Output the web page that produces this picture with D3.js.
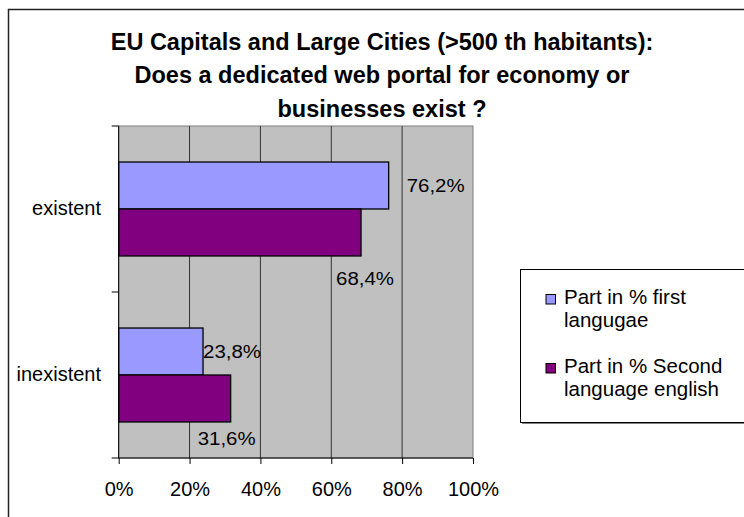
<!DOCTYPE html>
<html>
<head>
<meta charset="utf-8">
<script src="https://cdn.jsdelivr.net/npm/d3@7"></script>
<style>
  html, body { margin: 0; padding: 0; background: #ffffff; }
  svg { display: block; }
  text { font-family: Arial, "Liberation Sans", sans-serif; fill: #000; }
</style>
</head>
<body>
<svg id="chart" width="744" height="517"></svg>
<script>
// Chart data
const categories = ["existent", "inexistent"];
const seriesNames = ["Part in % first langugae", "Part in % Second language english"];
const seriesLegendLines = [["Part in % first", "langugae"], ["Part in % Second", "language english"]];
const firstLanguage = [76.2, 23.8];
const secondLanguageEnglish = [68.4, 31.6];
const xTicks = [0, 20, 40, 60, 80, 100];
const titleLines = [
  "EU Capitals and Large Cities (>500 th habitants):",
  "Does a dedicated web portal for economy or",
  "businesses exist ?"
];

const seriesValues = [firstLanguage, secondLanguageEnglish];
const colors = ["#9999ff", "#800080"];

const svg = d3.select("#chart");

// Outer chart frame
svg.append("rect")
  .attr("x", 8.5).attr("y", 9.5)
  .attr("width", 760).attr("height", 520)
  .attr("fill", "#ffffff")
  .attr("stroke", "#222").attr("stroke-width", 1.5);

// Title
const title = svg.append("text")
  .attr("text-anchor", "middle")
  .style("font-weight", "bold")
  .style("font-size", "23.5px");
titleLines.forEach((line, i) => {
  title.append("tspan")
    .attr("x", 382)
    .attr("y", 50 + i * 33.3)
    .text(line);
});

// Plot area
const plot = { left: 118.7, right: 473, top: 126, bottom: 458 };

const x = d3.scaleLinear().domain([0, 100]).range([plot.left, plot.right]);
const y = d3.scaleBand().domain(categories).range([plot.top, plot.bottom])
  .paddingInner(0.434).paddingOuter(0.217);
const ySeries = d3.scaleBand().domain(d3.range(seriesValues.length)).range([0, y.bandwidth()]);

svg.append("rect")
  .attr("x", plot.left).attr("y", plot.top)
  .attr("width", plot.right - plot.left).attr("height", plot.bottom - plot.top)
  .attr("fill", "#c0c0c0")
  .attr("stroke", "#808080").attr("stroke-width", 1);

// Vertical gridlines
svg.append("g")
  .selectAll("line")
  .data(xTicks.filter(t => t > 0 && t < 100))
  .join("line")
  .attr("x1", d => x(d)).attr("x2", d => x(d))
  .attr("y1", plot.top).attr("y2", plot.bottom)
  .attr("stroke", "#333").attr("stroke-width", 1);

// Bars
const groups = svg.append("g")
  .selectAll("g")
  .data(categories)
  .join("g")
  .attr("transform", d => `translate(0,${y(d)})`);

groups.selectAll("rect")
  .data((d, ci) => seriesValues.map((vals, si) => ({ si, value: vals[ci] })))
  .join("rect")
  .attr("x", x(0))
  .attr("y", d => ySeries(d.si))
  .attr("width", d => x(d.value) - x(0))
  .attr("height", ySeries.bandwidth())
  .attr("fill", d => colors[d.si])
  .attr("stroke", "#000").attr("stroke-width", 1.3);

// Value labels (hand-placed offsets relative to each bar end)
const labelPlacement = [
  [{ dx: 18, dy: 6, anchor: "start", below: false }, { dx: 4, dy: 29, anchor: "middle", below: true }],
  [{ dx: 0, dy: 6, anchor: "start", below: false }, { dx: -4, dy: 23, anchor: "middle", below: true }]
];
const fmt = v => d3.format(".1f")(v).replace(".", ",") + "%";

categories.forEach((cat, ci) => {
  seriesValues.forEach((vals, si) => {
    const p = labelPlacement[ci][si];
    const barTop = y(cat) + ySeries(si);
    const baseY = p.below ? barTop + ySeries.bandwidth() : barTop + ySeries.bandwidth() / 2;
    svg.append("text")
      .attr("x", x(vals[ci]) + p.dx)
      .attr("y", baseY + p.dy)
      .attr("text-anchor", p.anchor)
      .style("font-size", "18px")
      .attr("textLength", 58)
      .attr("lengthAdjust", "spacingAndGlyphs")
      .text(fmt(vals[ci]));
  });
});

// X axis
const xAxis = d3.axisBottom(x)
  .tickValues(xTicks)
  .tickFormat(d => d + "%")
  .tickSize(6)
  .tickSizeOuter(0);
const gx = svg.append("g")
  .attr("transform", `translate(0,${plot.bottom})`)
  .call(xAxis);
gx.select(".domain").remove();
gx.append("line")
  .attr("x1", plot.left - 7).attr("x2", plot.right)
  .attr("stroke", "#000");
gx.selectAll(".tick line").attr("stroke", "#000");
gx.selectAll(".tick text")
  .attr("y", 38).attr("dy", null)
  .style("font-size", "20px")
  .style("font-family", "Arial, 'Liberation Sans', sans-serif")
  .attr("fill", "#000");

// Y axis: boundary ticks between categories
const yBounds = [plot.top, (plot.top + plot.bottom) / 2];
const gy = svg.append("g");
gy.append("line")
  .attr("x1", plot.left).attr("x2", plot.left)
  .attr("y1", plot.top).attr("y2", plot.bottom)
  .attr("stroke", "#000");
gy.selectAll("line.tk")
  .data(yBounds)
  .join("line")
  .attr("class", "tk")
  .attr("x1", plot.left - 7).attr("x2", plot.left)
  .attr("y1", d => d).attr("y2", d => d)
  .attr("stroke", "#000");
gy.selectAll("text")
  .data(categories)
  .join("text")
  .attr("x", 101)
  .attr("y", d => y(d) + y.bandwidth() / 2 + 6)
  .attr("text-anchor", "end")
  .style("font-size", "20px")
  .text(d => d);

// Legend
const legend = { x: 520, y: 269, w: 260, h: 153 };
svg.append("rect")
  .attr("x", legend.x + 2).attr("y", legend.y + 2)
  .attr("width", legend.w).attr("height", legend.h)
  .attr("fill", "#808080");
svg.append("rect")
  .attr("x", legend.x + 0.5).attr("y", legend.y + 0.5)
  .attr("width", legend.w).attr("height", legend.h)
  .attr("fill", "#ffffff")
  .attr("stroke", "#000").attr("stroke-width", 1);

const entryBase = [304, 373];
seriesNames.forEach((name, si) => {
  const by = entryBase[si];
  svg.append("rect")
    .attr("x", 546).attr("y", by - 9.5)
    .attr("width", 9.5).attr("height", 9.5)
    .attr("fill", colors[si])
    .attr("stroke", "#000").attr("stroke-width", 1);
  const t = svg.append("text").style("font-size", "20.5px");
  seriesLegendLines[si].forEach((line, li) => {
    t.append("tspan").attr("x", 564).attr("y", by + li * 23).text(line);
  });
});
</script>
</body>
</html>
